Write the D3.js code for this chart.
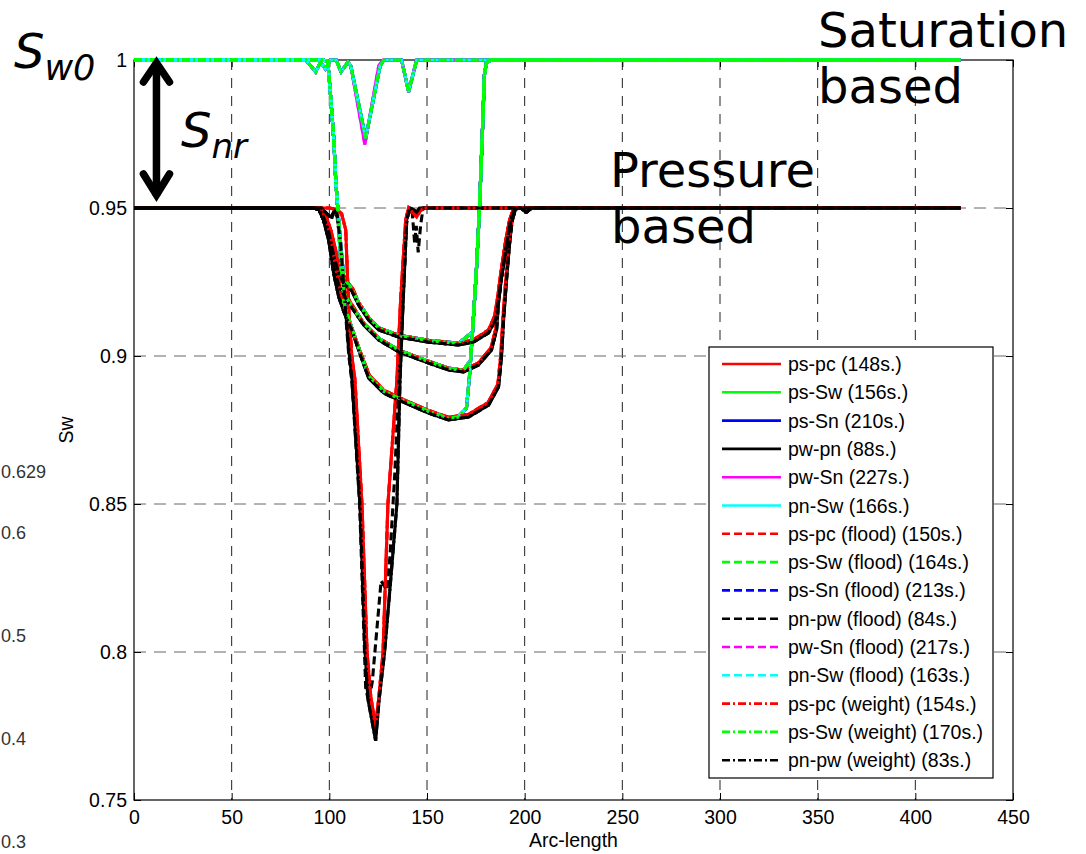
<!DOCTYPE html>
<html>
<head>
<meta charset="utf-8">
<script src="https://cdn.jsdelivr.net/npm/d3@7"></script>
<style>
  body { margin: 0; background: #fff; }
  svg { display: block; }
</style>
</head>
<body>
<svg id="chart" width="1086" height="854"></svg>
<script>
// ---------- data ----------
const xTicks = [0, 50, 100, 150, 200, 250, 300, 350, 400, 450];
const yTicks = [0.75, 0.8, 0.85, 0.9, 0.95, 1];
const sideTicks = [0.3, 0.4, 0.5, 0.6];
const sideMaxLabel = "0.629";

const legendLabels = [
  "ps-pc (148s.)", "ps-Sw (156s.)", "ps-Sn (210s.)", "pw-pn (88s.)",
  "pw-Sn (227s.)", "pn-Sw (166s.)",
  "ps-pc (flood) (150s.)", "ps-Sw (flood) (164s.)", "ps-Sn (flood) (213s.)",
  "pn-pw (flood) (84s.)", "pw-Sn (flood) (217s.)", "pn-Sw (flood) (163s.)",
  "ps-pc (weight) (154s.)", "ps-Sw (weight) (170s.)", "pn-pw (weight) (83s.)"
];

// Pressure based profiles (Sw vs arc-length), black family
const blackV = [[0,0.95],[96,0.95],[99.5,0.9475],[101,0.947],[102.5,0.949],[104,0.948],[106,0.936],[108,0.918],[110,0.902],[111.6,0.892],[115.7,0.85],[118.3,0.8],[119.8,0.784],[123.7,0.77],[125.5,0.784],[128.3,0.8],[131.5,0.825],[134.6,0.85],[136.2,0.892],[137.5,0.914],[139.6,0.946],[141.1,0.95],[142.7,0.9497],[144.7,0.9486],[146.2,0.95],[423,0.95]];
const blackFloodV = [[0,0.95],[96,0.95],[99.5,0.9475],[101,0.946],[102.5,0.949],[104,0.947],[106,0.935],[108,0.917],[110,0.9],[111.6,0.891],[115.5,0.85],[117.5,0.81],[118.6,0.788],[120.2,0.783],[122,0.79],[126.5,0.824],[129.5,0.821],[131,0.832],[133.5,0.86],[135.5,0.89],[137.3,0.913],[139.6,0.945],[141.1,0.95],[142.5,0.948],[143.7,0.938],[144.5,0.944],[145.5,0.935],[146.7,0.944],[148,0.95],[423,0.95]];
const blackU1 = [[0,0.95],[92,0.95],[94.6,0.9495],[97,0.947],[99.7,0.942],[102.2,0.934],[104.8,0.928],[107.4,0.9245],[111.5,0.922],[115,0.9172],[120.1,0.9122],[125.3,0.9088],[135.5,0.9064],[150.8,0.9047],[166.2,0.9037],[173.8,0.9047],[181.5,0.9078],[185.1,0.9122],[186.6,0.9189],[188.1,0.9264],[190.7,0.9375],[192.7,0.9453],[194.8,0.9497],[197.9,0.95],[200.9,0.9486],[203.5,0.95],[423,0.95]];
const blackU2 = [[0,0.95],[92,0.95],[94.6,0.9495],[97,0.946],[99.7,0.94],[102.2,0.93],[104.8,0.924],[107.4,0.9205],[109.9,0.9179],[117.6,0.9105],[125.3,0.9054],[135.5,0.9014],[150.8,0.8976],[161,0.8953],[168.7,0.8946],[176.4,0.897],[183,0.902],[185.6,0.9088],[186.6,0.918],[188.1,0.9264],[190.7,0.9375],[192.7,0.9453],[194.8,0.9497],[197.9,0.95],[200.9,0.9486],[203.5,0.95],[423,0.95]];
const blackU3 = [[0,0.95],[92,0.95],[94.6,0.9495],[97,0.946],[99.7,0.939],[102.2,0.928],[104.8,0.92],[107.4,0.915],[111.5,0.9088],[115,0.902],[120.1,0.8926],[127.8,0.8875],[135.5,0.8851],[150.8,0.8807],[161,0.8784],[171.3,0.8794],[181.5,0.8834],[186.6,0.8895],[188.1,0.8997],[189.2,0.9122],[190.7,0.9257],[192.2,0.9375],[193.5,0.9453],[195.3,0.9497],[197.9,0.95],[200.9,0.9486],[203.5,0.95],[423,0.95]];

// Pressure based profiles, red family
const redV = [[0,0.95],[100,0.95],[104,0.9495],[106.3,0.948],[108.4,0.9426],[109.9,0.9162],[111.5,0.9],[113.1,0.892],[116.7,0.85],[119.3,0.8],[121.2,0.785],[123.7,0.7747],[125.4,0.785],[127.5,0.8],[130,0.85],[134.6,0.892],[136.5,0.919],[139.1,0.946],[140.6,0.95],[142.5,0.9485],[144.7,0.947],[146.5,0.949],[148.3,0.95],[423,0.95]];
const redU1 = [[0,0.95],[93,0.95],[96,0.9495],[98.5,0.947],[101,0.942],[103.5,0.935],[106,0.929],[108.5,0.9255],[112,0.9228],[115,0.918],[120.1,0.913],[125.3,0.9095],[135.5,0.907],[150.8,0.9053],[166.2,0.9043],[173.8,0.9055],[181.5,0.9088],[184.6,0.9135],[186.2,0.92],[187.7,0.9275],[190.2,0.9385],[192.3,0.946],[194.5,0.95],[197.9,0.95],[200.9,0.9488],[203.5,0.95],[423,0.95]];
const redU2 = [[0,0.95],[93,0.95],[96,0.9495],[98.5,0.946],[101,0.94],[103.5,0.932],[106,0.925],[108.5,0.921],[110.5,0.9185],[117.6,0.911],[125.3,0.906],[135.5,0.902],[150.8,0.8982],[161,0.8959],[168.7,0.8952],[176.4,0.8977],[182.8,0.9028],[185.3,0.9095],[186.3,0.919],[187.7,0.9275],[190.2,0.9385],[192.3,0.946],[194.5,0.95],[197.9,0.95],[200.9,0.9488],[203.5,0.95],[423,0.95]];
const redU3 = [[0,0.95],[93,0.95],[96,0.9495],[98.5,0.946],[101,0.939],[103.5,0.929],[106,0.921],[108.5,0.914],[112,0.9085],[115.5,0.902],[120.5,0.8935],[127.8,0.8885],[135.5,0.886],[150.8,0.8816],[161,0.8793],[171.3,0.8803],[181.3,0.8843],[186.3,0.8905],[187.8,0.9005],[188.9,0.913],[190.4,0.9262],[191.9,0.9378],[193.3,0.9455],[195,0.95],[197.9,0.95],[200.9,0.9488],[203.5,0.95],[423,0.95]];

// Saturation based profiles
const satV = [[0,1],[88,1],[93,0.996],[95.5,0.9993],[98,0.997],[100.5,1],[103.5,1],[106,0.996],[109.5,0.9993],[111,0.998],[118.6,0.9736],[126,0.998],[128,1],[137,1],[140.6,0.9892],[144.7,1],[423,1]];
const satVMag = [[0,1],[88,1],[93,0.996],[95.5,0.9993],[98,0.997],[100.5,1],[103.5,1],[106,0.996],[109.5,0.9993],[111,0.998],[118.2,0.9715],[125.3,0.998],[127.5,1],[137,1],[140.6,0.9892],[144.7,1],[423,1]];
const satU1 = [[0,1],[97,1],[99.2,0.9995],[100.4,0.99],[102.3,0.973],[103.3,0.959],[104.3,0.95],[105.5,0.94],[107.4,0.9262],[111.5,0.9228],[115,0.918],[120.1,0.913],[125.3,0.9095],[135.5,0.907],[150.8,0.9053],[166.2,0.9043],[173.3,0.9081],[175.3,0.9291],[176.9,0.9503],[178.4,0.9764],[179.4,0.995],[180.4,0.999],[182.9,1],[423,1]];
const satU2 = [[0,1],[97,1],[99.2,0.9995],[100.4,0.99],[102.3,0.973],[103.3,0.959],[104.3,0.95],[105.5,0.937],[107.4,0.9215],[109.9,0.9185],[117.6,0.911],[125.3,0.906],[135.5,0.902],[150.8,0.8982],[161,0.8959],[168.7,0.8952],[172.3,0.8986],[173.3,0.9081],[175.3,0.9291],[176.9,0.9503],[178.4,0.9764],[179.4,0.995],[180.4,0.999],[182.9,1],[423,1]];
const satU3 = [[0,1],[97,1],[99.2,0.9995],[100.4,0.99],[102.3,0.973],[103.3,0.959],[104.3,0.95],[105.5,0.935],[107.4,0.918],[111.5,0.9095],[115,0.9028],[120.1,0.8934],[127.8,0.8882],[135.5,0.8858],[150.8,0.8814],[161,0.879],[166,0.8795],[170.2,0.8824],[171.8,0.8936],[173.3,0.9081],[175.3,0.9291],[176.9,0.9503],[178.4,0.9764],[179.4,0.995],[180.4,0.999],[182.9,1],[423,1]];

// ---------- series styling ----------
const COL = { r: "#ff0000", g: "#00ff00", b: "#0000ff", k: "#000000", m: "#ff00ff", c: "#00ffff" };
const DASH = { solid: null, dashed: "8,4", dashdot: "8,3,2,3" };

const redSet = [redV, redU1, redU2, redU3];
const blackSet = [blackV, blackU1, blackU2, blackU3];
const blackFloodSet = [blackFloodV, blackU1, blackU2, blackU3];
const satSet = [satV, satU1, satU2, satU3];
const magSet = [satVMag, satU1, satU2, satU3];

const seriesStyle = [
  { c: COL.r, d: DASH.solid,   p: redSet },
  { c: COL.g, d: DASH.solid,   p: satSet },
  { c: COL.b, d: DASH.solid,   p: satSet },
  { c: COL.k, d: DASH.solid,   p: blackSet },
  { c: COL.m, d: DASH.solid,   p: magSet },
  { c: COL.c, d: DASH.solid,   p: satSet },
  { c: COL.r, d: DASH.dashed,  p: redSet },
  { c: COL.g, d: DASH.dashed,  p: satSet },
  { c: COL.b, d: DASH.dashed,  p: satSet },
  { c: COL.k, d: DASH.dashed,  p: blackFloodSet },
  { c: COL.m, d: DASH.dashed,  p: magSet },
  { c: COL.c, d: DASH.dashed,  p: satSet },
  { c: COL.r, d: DASH.dashdot, p: redSet },
  { c: COL.g, d: DASH.dashdot, p: satSet },
  { c: COL.k, d: DASH.dashdot, p: blackSet }
];

// ---------- layout ----------
const svg = d3.select("#chart");
const plot = { left: 134, right: 1013, top: 60, bottom: 800 };
const x = d3.scaleLinear().domain([0, 450]).range([plot.left, plot.right]);
const y = d3.scaleLinear().domain([0.75, 1]).range([plot.bottom, plot.top]);
const FONT = "'Liberation Sans', Arial, Helvetica, sans-serif";
const DJ = "'DejaVu Sans', Verdana, sans-serif";
const LW = 3.1;

// grid
const grid = svg.append("g");
grid.selectAll("line.vg").data(xTicks.slice(1, -1)).join("line")
  .attr("x1", d => x(d)).attr("x2", d => x(d))
  .attr("y1", plot.top).attr("y2", plot.bottom)
  .attr("stroke", "#222").attr("stroke-width", 1).attr("stroke-dasharray", "10,8");
grid.selectAll("line.hg").data(yTicks.slice(1, -1)).join("line")
  .attr("x1", plot.left).attr("x2", plot.right)
  .attr("y1", d => y(d)).attr("y2", d => y(d))
  .attr("stroke", "#666").attr("stroke-width", 1).attr("stroke-dasharray", "12,8");

// axes (ticks inward, box on)
function styleAxis(g) {
  g.select(".domain").remove();
  g.selectAll(".tick line").attr("stroke", "#000");
  g.selectAll("text").attr("font-family", FONT).attr("font-size", "19.5px").attr("fill", "#000");
}
svg.append("g").attr("transform", `translate(0,${plot.bottom})`)
  .call(d3.axisBottom(x).tickValues(xTicks).tickSizeInner(-7).tickSizeOuter(0).tickPadding(10).tickFormat(d3.format("d")))
  .call(styleAxis);
svg.append("g").attr("transform", `translate(${plot.left},0)`)
  .call(d3.axisLeft(y).tickValues(yTicks).tickSizeInner(-7).tickSizeOuter(0).tickPadding(7).tickFormat(d => d3.format("")(+d.toFixed(2))))
  .call(styleAxis);
svg.append("g").attr("transform", `translate(0,${plot.top})`)
  .call(d3.axisTop(x).tickValues(xTicks).tickSizeInner(-7).tickSizeOuter(0).tickFormat(""))
  .call(styleAxis);
svg.append("g").attr("transform", `translate(${plot.right},0)`)
  .call(d3.axisRight(y).tickValues(yTicks).tickSizeInner(-7).tickSizeOuter(0).tickFormat(""))
  .call(styleAxis);

svg.append("rect")
  .attr("x", plot.left).attr("y", plot.top)
  .attr("width", plot.right - plot.left).attr("height", plot.bottom - plot.top)
  .attr("fill", "none").attr("stroke", "#000").attr("stroke-width", 1.2);

// axis titles
svg.append("text").attr("x", (plot.left + plot.right) / 2).attr("y", 847)
  .attr("text-anchor", "middle").attr("font-family", FONT).attr("font-size", "19.5px").text("Arc-length");
svg.append("text").attr("transform", "translate(73,430) rotate(-90)")
  .attr("text-anchor", "middle").attr("font-family", FONT).attr("font-size", "19.5px").text("Sw");

// curves
const line = d3.line().x(d => x(d[0])).y(d => y(d[1]));
const curves = svg.append("g");
seriesStyle.forEach(s => {
  s.p.forEach(profile => {
    curves.append("path")
      .attr("d", line(profile))
      .attr("fill", "none")
      .attr("stroke", s.c)
      .attr("stroke-width", LW)
      .attr("stroke-dasharray", s.d)
      .attr("stroke-linejoin", "miter");
  });
});

// legend
const lg = svg.append("g");
const lgBox = { x: 709, y: 347, w: 284, h: 431, row0: 364, step: 28.3 };
lg.append("rect").attr("x", lgBox.x).attr("y", lgBox.y).attr("width", lgBox.w).attr("height", lgBox.h)
  .attr("fill", "#fff").attr("stroke", "#000").attr("stroke-width", 1.2);
legendLabels.forEach((lab, i) => {
  const ry = lgBox.row0 + i * lgBox.step;
  const s = seriesStyle[i];
  lg.append("line").attr("x1", 722).attr("x2", 781).attr("y1", ry).attr("y2", ry)
    .attr("stroke", s.c).attr("stroke-width", 2.6).attr("stroke-dasharray", s.d);
  lg.append("text").attr("x", 788).attr("y", ry).attr("dy", "0.36em")
    .attr("font-family", FONT).attr("font-size", "19.5px").attr("fill", "#000").text(lab);
});

// annotations
const ann = svg.append("g").attr("font-family", DJ).attr("fill", "#000");
const sw0 = ann.append("text").attr("x", 14).attr("y", 68).attr("font-size", "48px").attr("font-style", "italic");
sw0.append("tspan").text("S");
sw0.append("tspan").attr("font-size", "35px").attr("dy", 12).text("w0");
const snr = ann.append("text").attr("x", 181).attr("y", 147).attr("font-size", "48px").attr("font-style", "italic");
snr.append("tspan").text("S");
snr.append("tspan").attr("font-size", "34px").attr("dy", 11).text("nr");
ann.append("text").attr("x", 610).attr("y", 187).attr("font-size", "48px").text("Pressure");
ann.append("text").attr("x", 611).attr("y", 243).attr("font-size", "48px").text("based");
ann.append("text").attr("x", 818).attr("y", 47).attr("font-size", "48px").text("Saturation");
ann.append("text").attr("x", 818).attr("y", 103).attr("font-size", "48px").text("based");

// double-headed arrow spanning the residual saturation band
const ax = x(11.5);
const arrow = svg.append("g").attr("stroke", "#000").attr("fill", "none").attr("stroke-width", 7.5);
arrow.append("line").attr("x1", ax).attr("x2", ax).attr("y1", y(1) + 4).attr("y2", y(0.95) - 12);
arrow.append("path").attr("d", `M${ax - 13},${y(1) + 22} L${ax},${y(1) + 3} L${ax + 13},${y(1) + 22}`)
  .attr("stroke-linejoin", "miter").attr("stroke-linecap", "round");
arrow.append("path").attr("d", `M${ax - 13},${y(0.95) - 34} L${ax},${y(0.95) - 13} L${ax + 13},${y(0.95) - 34}`)
  .attr("stroke-linejoin", "miter").attr("stroke-linecap", "round");

// scale labels along the left margin
const side = d3.scaleLinear().domain([0.3, 0.6]).range([842, 533]);
const sideG = svg.append("g").attr("font-family", FONT).attr("font-size", "18px").attr("fill", "#333");
sideG.selectAll("text.st").data(sideTicks).join("text")
  .attr("x", 1).attr("y", d => side(d)).attr("dy", "0.36em").text(d => d3.format(".1f")(d));
sideG.append("text").attr("x", 1).attr("y", side(0.6) - 61).attr("dy", "0.36em").text(sideMaxLabel);
</script>
</body>
</html>
